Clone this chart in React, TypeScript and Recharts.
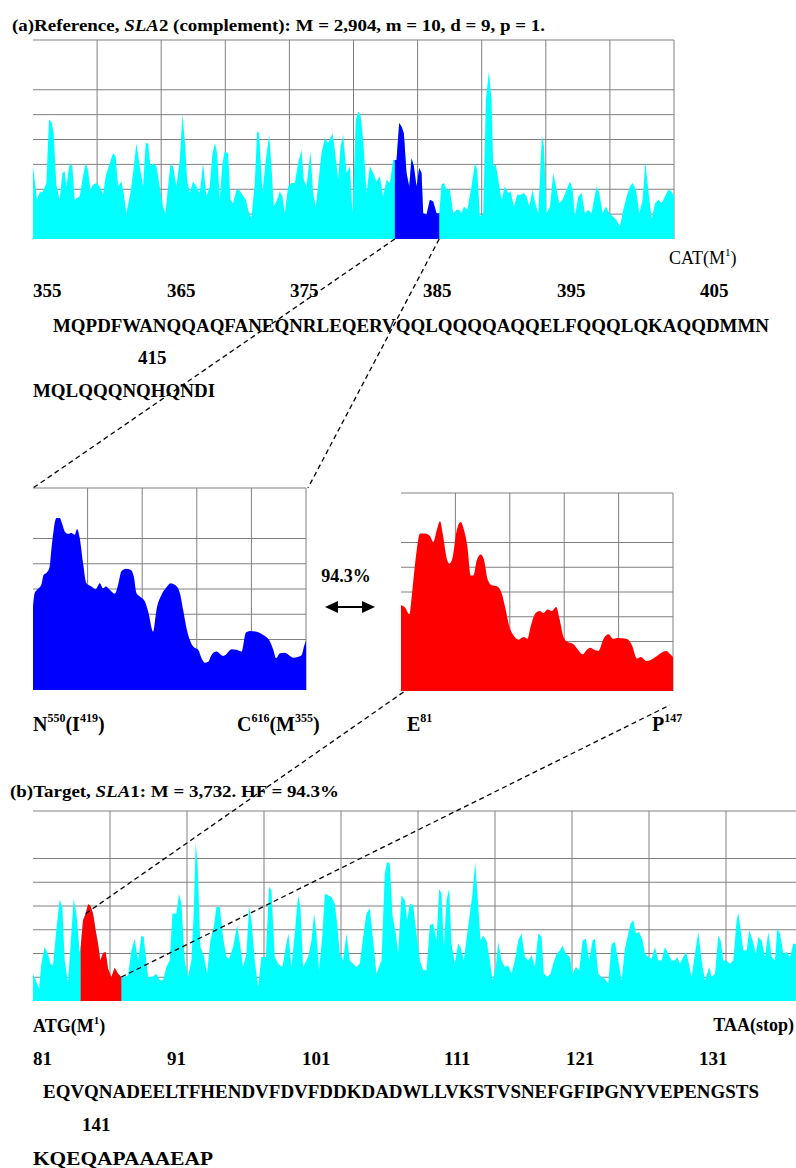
import React from 'react';
import { AreaChart, Area, XAxis, YAxis, CartesianGrid } from 'recharts';

// ---------- (a) reference profile, SLA2 complement ----------
const topX = [0,5,12,20,30,40,48,55,62,70,80,88,95,100,110,118,125,132,140,150,158,165,172,180,190,200,210,218,230,240,248,255,265,272,280,292,300,310,320,330,338,345,352,360,370,380,390,397,405,412,420,430,440,448,456,462,470,480,490,500,510,520,530,538,546,552,560,568,575,585,592,600,610,618,628,638,648,655,665,672,678,688,698,708,715,722,732,740,748,755,765,775,785,795,805,812,820,832,840,848,855,865,875,885,898,905,915,922,930,940,950,958,968,975,982,990,1000,1010,1020,1030,1040,1050,1060,1070,1080,1085,1090,1098,1105,1112,1120,1128,1135,1142,1150,1158,1165,1170,1180,1190,1200,1210,1218,1225,1232,1240,1250,1260,1270,1278,1285,1292,1302,1315,1325,1332,1340,1350,1358,1367,1375,1380,1388,1395,1405,1415,1425,1432,1442,1452,1462,1472,1480,1488,1498,1506,1515,1526,1532,1540,1550,1560,1568,1578,1588,1600,1610,1618,1625,1635,1645,1655,1665,1675,1682,1690,1698,1708,1718,1728,1738,1748,1760,1770,1780,1790,1798,1808,1818,1828,1836,1844,1855,1865,1875,1885,1895,1905,1915,1922];
const topY = [2.92,2.38,1.58,1.87,1.91,2.25,4.79,4.72,4.25,2.18,1.58,2.65,2.72,2.11,3.05,2.92,1.58,1.65,1.71,2.52,3.05,2.78,1.98,2.18,2.25,2.11,1.78,2.52,3.05,3.45,3.32,2.11,2.31,1.85,1.04,1.85,2.65,3.85,2.92,2.11,3.85,3.85,2.92,3.05,2.92,2.11,1.31,1.04,2.11,2.98,2.92,2.11,3.18,4.99,3.85,2.38,1.85,2.31,2.11,1.85,3.05,1.71,2.11,3.45,3.85,3.45,1.58,3.05,3.52,3.45,1.58,1.44,1.98,1.98,1.78,1.58,1.04,0.84,2.25,4.32,4.25,1.85,3.18,4.19,2.92,1.31,1.58,1.91,1.71,1.04,2.11,2.25,2.25,3.05,3.59,2.38,2.11,3.52,1.85,1.31,2.18,3.45,4.05,3.85,4.25,3.59,2.38,3.72,4.19,2.65,2.92,1.04,4.79,5.12,4.99,3.99,1.85,2.92,2.65,2.31,2.52,1.71,2.38,2.25,3.18,3.18,3.18,4.66,4.52,4.25,2.65,2.11,3.25,2.92,2.11,2.85,2.65,1.04,0.98,1.58,1.51,1.04,1.04,2.18,2.25,1.98,1.98,1.04,1.18,1.18,1.04,1.31,1.18,2.11,3.05,2.78,0.91,1.04,5.59,6.73,5.59,2.92,2.98,2.38,1.58,2.11,1.85,1.91,1.31,1.78,1.78,1.85,1.71,1.31,1.98,1.44,1.04,4.19,3.72,1.04,1.31,2.65,2.11,1.44,1.58,1.98,2.31,1.98,0.91,1.71,1.85,1.04,1.18,1.04,1.58,2.11,1.85,1.04,1.31,1.04,0.91,0.78,0.51,1.18,1.71,2.11,2.25,1.98,1.04,1.58,3.12,2.11,0.78,1.44,1.58,1.44,1.71,1.98,1.91,1.71];
const topMax = 1922;
const topHighlight = [1085, 1218];

// ---------- zoomed windows ----------
const blueX = [0,5,12,25,32,40,50,55,62,70,80,88,95,105,115,125,132,140,150,160,175,188,200,210,218,230,245,255,265,278,292,302,310,320,335,345,360,370,385,400,412,425,440,450,460,470,480,495,505,515,525,535,550,560,570,580,595,610,625,638,650,670,690,710,720,728,740,755,770,780,795,805,812,818];
const blueY = [3.31,3.84,3.97,4.17,4.56,4.63,4.89,5.56,6.35,6.81,6.81,6.55,6.28,6.19,6.22,6.15,6.38,6.02,5.03,4.23,4.10,3.99,4.23,4.03,4.10,3.97,3.81,4.17,4.70,4.80,4.76,4.50,3.84,3.70,3.51,3.11,2.31,3.17,3.77,4.07,4.23,4.17,3.84,3.17,2.45,1.98,1.72,1.59,1.26,1.08,1.12,1.39,1.52,1.43,1.35,1.43,1.61,1.59,1.52,2.28,2.34,2.31,2.18,1.92,1.59,1.26,1.46,1.48,1.35,1.28,1.32,1.39,1.72,1.96];
const blueMax = 818;

const redX = [0,12,25,32,39,47,57,72,87,97,107,117,125,137,145,155,167,179,189,199,209,217,227,239,249,259,272,287,302,312,325,337,352,367,379,387,402,415,427,439,452,465,475,487,499,515,532,544,557,567,579,592,607,622,635,652,677,692,707,719,735,747,762,779,795,807,815];
const redY = [3.46,3.37,3.10,3.80,4.74,5.68,6.36,6.36,6.25,6.02,6.49,6.86,6.36,5.35,5.14,5.41,6.49,6.83,6.49,5.82,4.67,4.67,5.28,5.52,5.28,4.54,4.27,4.23,3.93,3.39,2.59,2.25,2.07,2.18,2.11,2.52,3.12,3.23,3.15,3.29,3.23,3.39,2.92,2.18,1.98,1.91,1.64,1.48,1.67,1.75,1.67,1.62,2.11,2.29,2.11,2.14,2.10,1.85,1.31,1.37,1.21,1.24,1.37,1.54,1.62,1.48,1.37];
const redMax = 815;

// ---------- (b) target profile, SLA1 ----------
const botX = [0,8,18,25,35,45,52,60,70,80,88,95,105,115,122,130,140,143,150,158,165,172,180,188,195,202,210,218,225,235,245,255,265,272,285,295,305,315,325,332,345,358,370,380,390,400,410,418,430,438,445,455,465,475,482,488,494,502,512,522,532,542,550,560,570,580,588,600,612,620,630,640,648,655,665,675,685,698,708,715,725,735,748,758,766,775,785,795,802,810,825,835,843,850,858,868,875,885,895,905,912,920,930,940,950,960,970,980,990,1000,1010,1020,1030,1045,1055,1062,1070,1078,1088,1095,1105,1115,1122,1130,1140,1150,1160,1170,1180,1190,1200,1210,1218,1225,1232,1240,1248,1255,1265,1275,1282,1292,1302,1318,1326,1334,1342,1350,1360,1370,1378,1388,1395,1405,1415,1425,1435,1445,1455,1465,1475,1485,1495,1505,1515,1525,1532,1542,1552,1560,1570,1580,1588,1598,1610,1618,1628,1638,1648,1658,1668,1678,1685,1695,1705,1715,1725,1735,1745,1755,1765,1775,1785,1792,1800,1808,1818,1828,1835,1845,1855,1865,1875,1885,1895,1905,1915,1925,1932,1940,1950,1958,1965,1975,1985,1995,2005,2015,2028,2035,2045,2055,2062,2070,2080,2090,2100,2110,2115,2122,2130,2140,2148,2158,2168,2175,2185,2195,2205,2215,2225,2232,2240,2250,2260,2270,2280,2288,2309];
const botY = [1.15,0.87,0.52,1.57,2.27,1.99,1.57,1.50,2.98,4.27,3.96,1.71,0.80,2.84,4.31,3.68,2.06,2.27,3.40,3.68,4.07,4.03,3.68,2.98,2.41,1.71,2.02,2.06,1.36,1.01,1.40,1.15,1.01,1.01,1.08,2.13,2.62,1.71,2.76,2.69,1.01,1.01,1.15,0.87,0.87,1.43,1.71,3.68,3.68,4.52,4.10,1.71,1.01,1.71,3.68,6.69,5.64,2.27,1.92,1.15,2.55,3.12,3.96,3.96,2.69,1.85,1.78,2.27,3.19,2.48,1.43,1.99,3.96,3.40,1.71,0.59,1.85,1.85,4.80,4.66,1.85,1.57,1.43,2.27,2.84,1.43,2.84,4.45,3.96,1.43,1.85,2.55,3.68,2.84,1.29,2.84,4.52,4.45,4.38,4.10,3.26,1.99,1.71,2.84,1.71,1.57,1.43,1.57,2.69,3.68,3.89,2.55,1.15,1.71,5.36,5.85,5.78,3.61,2.84,1.99,4.45,4.24,3.40,4.10,4.03,2.84,1.71,1.29,1.29,3.19,3.26,2.55,4.73,4.52,2.27,4.24,4.73,2.41,1.57,2.41,2.27,1.71,2.84,4.52,5.85,4.24,2.55,2.76,2.55,1.71,0.87,1.43,2.48,1.71,1.43,1.50,1.15,1.71,2.55,2.84,1.85,1.71,1.92,1.43,2.84,2.69,1.15,1.01,1.15,1.57,1.99,2.13,2.34,1.99,1.85,1.15,1.43,1.29,2.55,2.62,1.71,2.55,2.62,1.15,1.01,0.94,0.73,2.41,2.48,1.71,0.87,2.20,2.84,3.26,3.40,2.84,2.91,2.55,1.99,1.85,1.78,2.27,1.71,1.71,2.27,1.99,1.71,1.71,1.85,1.57,1.85,2.06,1.71,1.01,1.99,2.91,1.71,0.87,1.43,1.01,1.15,2.76,2.55,1.71,1.71,1.57,1.71,3.40,3.71,2.98,2.13,2.13,2.98,2.55,1.99,2.69,2.55,1.85,2.91,1.85,1.71,3.05,2.84,1.99,2.06,1.85,2.41,2.41,2.30];
const botMax = 2309;
const botHighlight = [143, 265];

// ---------- text ----------
const refNumbers = ['355', '365', '375', '385', '395', '405'];
const refSeq1 = 'MQPDFWANQQAQFANEQNRLEQERVQQLQQQQAQQELFQQQLQKAQQDMMN';
const refNumber2 = '415';
const refSeq2 = 'MQLQQQNQHQNDI';
const tgtNumbers = ['81', '91', '101', '111', '121', '131'];
const tgtSeq1 = 'EQVQNADEELTFHENDVFDVFDDKDADWLLVKSTVSNEFGFIPGNYVEPENGSTS';
const tgtNumber2 = '141';
const tgtSeq2 = 'KQEQAPAAAEAP';
const similarity = '94.3%';

// ---------- layout ----------
const YMAX = 8;
const TOPBOX = { left: 33, top: 40, w: 641, h: 199 };
const MIDB = { left: 33, top: 488, w: 273, h: 202 };
const MIDR = { left: 401, top: 493, w: 272, h: 198 };
const BOTBOX = { left: 33, top: 811, w: 770, h: 190 };
const refNumX = [33, 167, 290, 423, 557, 700];
const tgtNumX = [33, 167, 302, 444, 566, 699];

const FONT = "'Liberation Serif', 'Times New Roman', Times, serif";

type Box = { left: number; top: number; w: number; h: number };

function build(xs: number[], ys: number[], range: number[] | null) {
  return xs.map((x, i) => ({
    x,
    base: ys[i],
    hi: range && x >= range[0] && x <= range[1] ? ys[i] : null,
  }));
}

function Profile(props: {
  box: Box; xs: number[]; ys: number[]; max: number;
  color: string; hiColor?: string; range?: number[] | null; curve?: 'linear' | 'monotone';
}) {
  const { box, xs, ys, max, color, hiColor, range, curve } = props;
  const data = build(xs, ys, range || null);
  const vVals = Array.from({ length: 11 }, (_, i) => (max * i) / 10);
  const hVals = Array.from({ length: YMAX + 1 }, (_, i) => i);
  const t = curve || 'linear';
  return (
    <div style={{ position: 'absolute', left: box.left - 1, top: box.top - 1 }}>
      <AreaChart width={box.w + 2} height={box.h + 2} data={data}
        margin={{ top: 1, right: 1, bottom: 1, left: 1 }}>
        <CartesianGrid stroke="#808080" strokeWidth={1}
          verticalValues={vVals} horizontalValues={hVals} />
        <XAxis type="number" dataKey="x" domain={[0, max]} hide allowDataOverflow ticks={vVals} />
        <YAxis type="number" domain={[0, YMAX]} hide allowDataOverflow ticks={hVals} />
        <Area type={t} dataKey="base" stroke="none" fill={color} fillOpacity={1}
          isAnimationActive={false} dot={false} activeDot={false} />
        {range ? (
          <Area type={t} dataKey="hi" stroke="none" fill={hiColor} fillOpacity={1}
            isAnimationActive={false} dot={false} activeDot={false} connectNulls={false} />
        ) : null}
      </AreaChart>
    </div>
  );
}

function px(b: Box, max: number, x: number) { return b.left + (x / max) * b.w; }
function py(b: Box, v: number) { return b.top + b.h - (v / YMAX) * b.h; }
function valAt(xs: number[], ys: number[], x: number) { return ys[xs.indexOf(x)]; }

export default function App() {
  // connector anchors derived from the data and layout
  const l1a = [px(TOPBOX, topMax, topHighlight[0]), py(TOPBOX, 0)];
  const l1b = [MIDB.left, MIDB.top];
  const l2a = [px(TOPBOX, topMax, topHighlight[1]), py(TOPBOX, 0)];
  const l2b = [MIDB.left + MIDB.w + 2, MIDB.top];
  const l3a = [px(BOTBOX, botMax, 158), py(BOTBOX, valAt(botX, botY, 158))];
  const l3b = [MIDR.left + 4, MIDR.top + MIDR.h];
  const l4a = [px(BOTBOX, botMax, botHighlight[1]), py(BOTBOX, valAt(botX, botY, botHighlight[1]))];
  const l4b = [MIDR.left + MIDR.w - 3, MIDR.top + MIDR.h + 14];
  const dash = { stroke: '#000', strokeWidth: 1.3, strokeDasharray: '5 3.5', fill: 'none' };

  return (
    <div style={{ position: 'absolute', left: 0, top: 0, width: 796, height: 1168, overflow: 'hidden', background: '#fff' }}>
      <Profile box={TOPBOX} xs={topX} ys={topY} max={topMax} color="#00FFFF" hiColor="#0000FF" range={topHighlight} />
      <Profile box={MIDB} xs={blueX} ys={blueY} max={blueMax} color="#0000FF" curve="monotone" />
      <Profile box={MIDR} xs={redX} ys={redY} max={redMax} color="#FF0000" curve="monotone" />
      <Profile box={BOTBOX} xs={botX} ys={botY} max={botMax} color="#00FFFF" hiColor="#FF0000" range={botHighlight} />

      <svg width={796} height={1168} style={{ position: 'absolute', left: 0, top: 0, pointerEvents: 'none' }}
        fontFamily={FONT}>
        {/* titles */}
        <text x={12} y={31} fontSize={17} fontWeight="bold" textLength={533} lengthAdjust="spacingAndGlyphs">
          (a)Reference, <tspan fontStyle="italic">SLA</tspan>2 (complement): M = 2,904, m = 10, d = 9, p = 1.
        </text>
        <text x={10} y={797} fontSize={17} fontWeight="bold" textLength={329} lengthAdjust="spacingAndGlyphs">
          (b)Target, <tspan fontStyle="italic">SLA</tspan>1: M = 3,732. HF = 94.3%
        </text>

        {/* reference text block */}
        <text x={669} y={264} fontSize={18}>
          CAT(M<tspan fontSize={11} dy={-8}>1</tspan><tspan dy={8} fontSize={18}>)</tspan>
        </text>
        {refNumbers.map((n, i) => (
          <text key={n} x={refNumX[i]} y={297} fontSize={19} fontWeight="bold">{n}</text>
        ))}
        <text x={53} y={332} fontSize={18.5} fontWeight="bold" textLength={716} lengthAdjust="spacingAndGlyphs">{refSeq1}</text>
        <text x={138} y={364} fontSize={19} fontWeight="bold">{refNumber2}</text>
        <text x={33} y={397} fontSize={18.5} fontWeight="bold" textLength={182} lengthAdjust="spacingAndGlyphs">{refSeq2}</text>

        {/* middle labels */}
        <text x={33} y={731} fontSize={20} fontWeight="bold">
          N<tspan fontSize={12} dy={-9}>550</tspan><tspan fontSize={20} dy={9}>(I</tspan><tspan fontSize={12} dy={-9}>419</tspan><tspan fontSize={20} dy={9}>)</tspan>
        </text>
        <text x={237} y={731} fontSize={20} fontWeight="bold">
          C<tspan fontSize={12} dy={-9}>616</tspan><tspan fontSize={20} dy={9}>(M</tspan><tspan fontSize={12} dy={-9}>355</tspan><tspan fontSize={20} dy={9}>)</tspan>
        </text>
        <text x={407} y={731} fontSize={20} fontWeight="bold">
          E<tspan fontSize={12} dy={-9}>81</tspan>
        </text>
        <text x={652} y={731} fontSize={20} fontWeight="bold">
          P<tspan fontSize={12} dy={-9}>147</tspan>
        </text>
        <text x={346} y={582} fontSize={18} fontWeight="bold" textAnchor="middle">{similarity}</text>
        <line x1={334} y1={607} x2={366} y2={607} stroke="#000" strokeWidth={2} />
        <polygon points="325,607 338,601 338,613" fill="#000" />
        <polygon points="375,607 362,601 362,613" fill="#000" />

        {/* target text block */}
        <text x={33} y={1032} fontSize={18} fontWeight="bold">
          ATG(M<tspan fontSize={11} dy={-8}>1</tspan><tspan dy={8} fontSize={18}>)</tspan>
        </text>
        <text x={794} y={1031} fontSize={18} fontWeight="bold" textAnchor="end">TAA(stop)</text>
        {tgtNumbers.map((n, i) => (
          <text key={n} x={tgtNumX[i]} y={1065} fontSize={19} fontWeight="bold">{n}</text>
        ))}
        <text x={43} y={1098} fontSize={18.5} fontWeight="bold" textLength={716} lengthAdjust="spacingAndGlyphs">{tgtSeq1}</text>
        <text x={82} y={1131} fontSize={19} fontWeight="bold">{tgtNumber2}</text>
        <text x={33} y={1165} fontSize={18.5} fontWeight="bold" textLength={180} lengthAdjust="spacingAndGlyphs">{tgtSeq2}</text>

        {/* connectors */}
        <line x1={l1a[0]} y1={l1a[1]} x2={l1b[0]} y2={l1b[1]} {...dash} />
        <line x1={l2a[0]} y1={l2a[1]} x2={l2b[0]} y2={l2b[1]} {...dash} />
        <line x1={l3a[0]} y1={l3a[1]} x2={l3b[0]} y2={l3b[1]} {...dash} />
        <line x1={l4a[0]} y1={l4a[1]} x2={l4b[0]} y2={l4b[1]} {...dash} />
      </svg>
    </div>
  );
}
